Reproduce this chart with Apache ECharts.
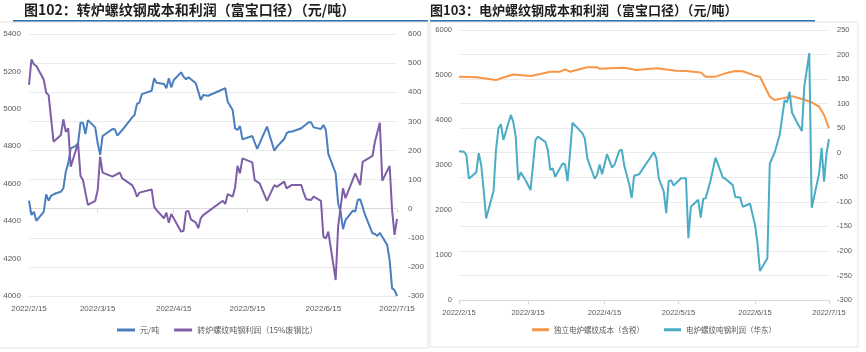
<!DOCTYPE html>
<html>
<head>
<meta charset="utf-8">
<script src="https://cdn.jsdelivr.net/npm/echarts@6/dist/echarts.min.js"></script>
<style>
  html, body { margin: 0; padding: 0; background: #fff; }
  #chart { width: 866px; height: 352px; }
</style>
</head>
<body>
<div id="chart"></div>
<script>
// ============================================================================
// Data
// ============================================================================

// x axis ticks (15th of each month)
const tickDates = ['2022-02-15', '2022-03-15', '2022-04-15', '2022-05-15', '2022-06-15', '2022-07-15'];

// left panel: BOF rebar cost (元/吨) and per-ton profit
const bofCostDates = ['2022-02-15', '2022-02-16', '2022-02-17', '2022-02-18', '2022-02-21', '2022-02-22', '2022-02-23', '2022-02-24', '2022-02-26', '2022-02-28',
  '2022-03-01', '2022-03-02', '2022-03-03', '2022-03-04', '2022-03-06', '2022-03-07', '2022-03-08', '2022-03-09', '2022-03-10', '2022-03-11',
  '2022-03-14', '2022-03-15', '2022-03-16', '2022-03-17', '2022-03-21', '2022-03-22', '2022-03-23', '2022-03-25', '2022-03-29', '2022-03-30',
  '2022-03-31', '2022-04-01', '2022-04-02', '2022-04-06', '2022-04-07', '2022-04-08', '2022-04-11', '2022-04-12', '2022-04-13', '2022-04-14',
  '2022-04-15', '2022-04-18', '2022-04-19', '2022-04-20', '2022-04-21', '2022-04-24', '2022-04-25', '2022-04-26', '2022-04-27', '2022-04-29',
  '2022-05-06', '2022-05-07', '2022-05-09', '2022-05-10', '2022-05-11', '2022-05-12', '2022-05-13', '2022-05-17', '2022-05-19', '2022-05-23',
  '2022-05-26', '2022-05-27', '2022-05-30', '2022-05-31', '2022-06-01', '2022-06-02', '2022-06-06', '2022-06-09', '2022-06-10', '2022-06-11',
  '2022-06-14', '2022-06-15', '2022-06-16', '2022-06-17', '2022-06-20', '2022-06-21', '2022-06-22', '2022-06-23', '2022-06-24', '2022-06-27',
  '2022-06-28', '2022-06-29', '2022-06-30', '2022-07-02', '2022-07-05', '2022-07-06', '2022-07-07', '2022-07-08', '2022-07-11', '2022-07-12',
  '2022-07-13', '2022-07-14', '2022-07-15'];
const bofCost = [4510, 4433, 4450, 4402, 4450, 4543, 4509, 4536, 4549, 4557,
  4575, 4664, 4709, 4789, 4801, 4816, 4926, 4926, 4866, 4940,
  4901, 4816, 4754, 4855, 4892, 4891, 4857, 4887, 4953, 4967,
  5026, 5033, 5079, 5097, 5163, 5140, 5133, 5110, 5163, 5115,
  5154, 5195, 5172, 5158, 5169, 5137, 5092, 5047, 5074, 5070,
  5110, 5038, 4994, 4896, 4887, 4908, 4837, 4855, 4786, 4905,
  4776, 4797, 4839, 4869, 4878, 4878, 4896, 4928, 4928, 4901,
  4892, 4914, 4887, 4759, 4656, 4496, 4451, 4357, 4406, 4456,
  4451, 4513, 4517, 4433, 4335, 4331, 4321, 4338, 4272, 4192,
  4041, 4032, 4000];

const bofProfitDates = ['2022-02-15', '2022-02-16', '2022-02-17', '2022-02-18', '2022-02-21', '2022-02-22', '2022-02-23', '2022-02-25', '2022-02-28', '2022-03-01',
  '2022-03-02', '2022-03-03', '2022-03-04', '2022-03-07', '2022-03-08', '2022-03-09', '2022-03-11', '2022-03-14', '2022-03-15', '2022-03-16',
  '2022-03-17', '2022-03-21', '2022-03-24', '2022-03-25', '2022-03-29', '2022-03-30', '2022-03-31', '2022-04-01', '2022-04-06', '2022-04-07',
  '2022-04-08', '2022-04-11', '2022-04-12', '2022-04-13', '2022-04-14', '2022-04-18', '2022-04-19', '2022-04-20', '2022-04-21', '2022-04-22',
  '2022-04-24', '2022-04-25', '2022-04-26', '2022-04-27', '2022-05-05', '2022-05-06', '2022-05-07', '2022-05-09', '2022-05-10', '2022-05-11',
  '2022-05-12', '2022-05-13', '2022-05-17', '2022-05-18', '2022-05-20', '2022-05-23', '2022-05-26', '2022-05-27', '2022-05-30', '2022-05-31',
  '2022-06-02', '2022-06-06', '2022-06-07', '2022-06-08', '2022-06-10', '2022-06-11', '2022-06-14', '2022-06-15', '2022-06-16', '2022-06-17',
  '2022-06-20', '2022-06-21', '2022-06-23', '2022-06-24', '2022-06-28', '2022-06-30', '2022-07-01', '2022-07-05', '2022-07-06', '2022-07-08',
  '2022-07-09', '2022-07-12', '2022-07-13', '2022-07-14', '2022-07-15'];
const bofProfit = [425, 513, 496, 490, 444, 398, 390, 230, 253, 307,
  264, 276, 144, 225, 112, 98, 13, 27, 64, 179,
  124, 110, 124, 104, 81, 66, 41, 55, 66, 7,
  -5, -33, -14, -48, -18, -79, -76, -10, -8, -37,
  -48, -67, -33, -22, 27, 16, 50, 41, 73, 147,
  121, 173, 159, 98, 87, 27, 81, 75, 93, 70,
  81, 81, 53, 32, 30, 41, 27, -96, -102, -79,
  -245, -62, 70, 36, 121, 81, 161, 181, 230, 295,
  96, 147, -5, -90, -35];

// right panel: EAF rebar cost (含税) and per-ton profit (华东)
const eafCostDates = ['2022-02-15', '2022-02-22', '2022-03-02', '2022-03-04', '2022-03-09', '2022-03-16', '2022-03-20', '2022-03-24', '2022-03-28', '2022-03-30',
  '2022-04-01', '2022-04-08', '2022-04-12', '2022-04-13', '2022-04-17', '2022-04-23', '2022-04-28', '2022-05-06', '2022-05-14', '2022-05-18',
  '2022-05-24', '2022-05-26', '2022-05-30', '2022-06-03', '2022-06-07', '2022-06-10', '2022-06-15', '2022-06-17', '2022-06-19', '2022-06-21',
  '2022-06-23', '2022-06-26', '2022-06-30', '2022-07-04', '2022-07-08', '2022-07-11', '2022-07-13', '2022-07-15'];
const eafCost = [4960, 4950, 4890, 4926, 5010, 4978, 5022, 5073, 5073, 5126,
  5073, 5171, 5171, 5140, 5149, 5162, 5111, 5149, 5096, 5089,
  5055, 4963, 4963, 5037, 5089, 5082, 4985, 4963, 4740, 4518,
  4444, 4481, 4530, 4467, 4393, 4296, 4111, 3815];

const eafProfitDates = ['2022-02-15', '2022-02-17', '2022-02-18', '2022-02-19', '2022-02-22', '2022-02-23', '2022-02-24', '2022-02-25', '2022-02-26', '2022-03-01',
  '2022-03-02', '2022-03-03', '2022-03-04', '2022-03-05', '2022-03-08', '2022-03-09', '2022-03-10', '2022-03-11', '2022-03-12', '2022-03-14',
  '2022-03-16', '2022-03-18', '2022-03-19', '2022-03-22', '2022-03-23', '2022-03-24', '2022-03-25', '2022-03-26', '2022-03-29', '2022-03-30',
  '2022-03-31', '2022-04-01', '2022-04-02', '2022-04-06', '2022-04-07', '2022-04-08', '2022-04-11', '2022-04-12', '2022-04-13', '2022-04-14',
  '2022-04-16', '2022-04-18', '2022-04-19', '2022-04-21', '2022-04-22', '2022-04-23', '2022-04-25', '2022-04-26', '2022-04-27', '2022-04-29',
  '2022-05-05', '2022-05-06', '2022-05-07', '2022-05-09', '2022-05-10', '2022-05-11', '2022-05-12', '2022-05-13', '2022-05-16', '2022-05-18',
  '2022-05-19', '2022-05-20', '2022-05-23', '2022-05-24', '2022-05-25', '2022-05-26', '2022-05-28', '2022-05-30', '2022-06-02', '2022-06-03',
  '2022-06-06', '2022-06-07', '2022-06-09', '2022-06-10', '2022-06-13', '2022-06-15', '2022-06-16', '2022-06-17', '2022-06-20', '2022-06-21',
  '2022-06-23', '2022-06-25', '2022-06-27', '2022-06-28', '2022-06-29', '2022-06-30', '2022-07-02', '2022-07-04', '2022-07-05', '2022-07-07',
  '2022-07-08', '2022-07-11', '2022-07-12', '2022-07-13', '2022-07-14', '2022-07-15'];
const eafProfit = [3, 2, -5, -53, -40, -1, -25, -76, -134, -78,
  6, 50, 58, 26, 77, 63, 33, -56, -40, -56,
  -76, 26, 33, 22, 6, -35, -32, -49, -22, -24,
  -58, -1, 61, 40, 29, -11, -53, -45, -24, -44,
  -3, -30, -25, 4, 6, -26, -64, -92, -47, -44,
  1, -11, -52, -79, -123, -58, -56, -67, -52, -52,
  -174, -110, -96, -132, -94, -93, -56, -10, -51, -53,
  -66, -90, -91, -110, -104, -147, -184, -241, -215, -22,
  1, 36, 107, 103, 124, 82, 62, 44, 135, 203,
  -112, -42, 10, -59, -1, 28];

// ============================================================================
// Chart
// ============================================================================

const FONT = '"Liberation Sans", "Noto Sans CJK SC", sans-serif';
const CJK = '"Noto Sans CJK SC", sans-serif';

// dates -> local timestamps, the x axes are plain value axes over time
const ts = (s) => new Date(s.replace(/-/g, '/')).getTime();
const zip = (dates, values) => dates.map((d, i) => [ts(d), values[i]]);
const tickValues = tickDates.map(ts);

const fmtDate = (v) => {
  const d = new Date(v);
  return d.getFullYear() + '/' + (d.getMonth() + 1) + '/' + d.getDate();
};

const makeXAxis = (gridIndex, fontSize) => ({
  type: 'value',
  gridIndex,
  min: tickValues[0],
  max: tickValues[tickValues.length - 1],
  axisLine: { lineStyle: { color: '#d9d9d9', width: 1 } },
  axisTick: { show: true, customValues: tickValues, length: 4, lineStyle: { color: '#d9d9d9' } },
  axisLabel: {
    customValues: tickValues,
    formatter: fmtDate,
    color: '#595959',
    fontSize,
    fontFamily: FONT,
    margin: 9,
  },
  splitLine: { show: false },
});

const makeYAxis = (gridIndex, position, min, max, interval, fontSize, split, margin) => ({
  type: 'value',
  gridIndex,
  position,
  min,
  max,
  interval,
  axisLine: { show: false },
  axisTick: { show: false },
  axisLabel: { color: '#595959', fontSize, fontFamily: FONT, margin, formatter: (v) => String(v) },
  splitLine: { show: split, lineStyle: { color: '#ebebeb', width: 1 } },
});

const lineSeries = (name, xi, yi, color, data) => ({
  name,
  type: 'line',
  xAxisIndex: xi,
  yAxisIndex: yi,
  data,
  showSymbol: false,
  symbol: 'none',
  lineStyle: { color, width: 2 },
  itemStyle: { color },
  emphasis: { disabled: true },
});

const chart = echarts.init(document.getElementById('chart'), null, { renderer: 'canvas' });

chart.setOption({
  animation: false,
  backgroundColor: '#fff',
  title: [
    {
      text: '图102：转炉螺纹钢成本和利润（富宝口径）（元/吨）',
      left: 24, top: 3, padding: 0,
      textStyle: { fontSize: 14, fontWeight: 'bold', color: '#1f1f1f', fontFamily: CJK },
    },
    {
      text: '图103：电炉螺纹钢成本和利润（富宝口径）（元/吨）',
      left: 430, top: 4, padding: 0,
      textStyle: { fontSize: 13, fontWeight: 'bold', color: '#1f1f1f', fontFamily: CJK },
    },
  ],
  // title underlines and panel frames
  graphic: [
    { type: 'line', shape: { x1: 13, y1: 21, x2: 428, y2: 21 }, style: { stroke: '#2e74b5', lineWidth: 2 } },
    { type: 'line', shape: { x1: 430, y1: 21, x2: 815, y2: 21 }, style: { stroke: '#2e74b5', lineWidth: 2 } },
    { type: 'rect', shape: { x: -1, y: 22, width: 429, height: 326 }, style: { fill: 'none', stroke: '#e3e3e3', lineWidth: 1 } },
    { type: 'rect', shape: { x: 430, y: 22, width: 428, height: 325 }, style: { fill: 'none', stroke: '#e3e3e3', lineWidth: 1 } },
  ],
  legend: [
    {
      left: 117, top: 326, padding: 0, itemGap: 15,
      itemWidth: 18, itemHeight: 3, icon: 'rect',
      textStyle: { fontSize: 8, color: '#595959', fontFamily: CJK },
      data: ['元/吨', '转炉螺纹吨钢利润（15%废钢比）'],
    },
    {
      left: 532, top: 326, padding: 0, itemGap: 20,
      itemWidth: 17, itemHeight: 3, icon: 'rect',
      textStyle: { fontSize: 7.5, color: '#595959', fontFamily: CJK },
      data: ['独立电炉螺纹成本（含税）', '电炉螺纹吨钢利润（华东）'],
    },
  ],
  grid: [
    { left: 29, top: 34, width: 368, height: 262 },
    { left: 459, top: 30, width: 370, height: 270 },
  ],
  xAxis: [makeXAxis(0, 8), makeXAxis(1, 7.5)],
  yAxis: [
    makeYAxis(0, 'left', 4000, 5400, 200, 8, false, 8),
    makeYAxis(0, 'right', -300, 600, 100, 8, true, 11),
    makeYAxis(1, 'left', 0, 6000, 1000, 7.5, false, 7),
    makeYAxis(1, 'right', -300, 250, 50, 7.5, true, 8),
  ],
  series: [
    lineSeries('元/吨', 0, 0, '#4a7ebf', zip(bofCostDates, bofCost)),
    lineSeries('转炉螺纹吨钢利润（15%废钢比）', 0, 1, '#7e5fa7', zip(bofProfitDates, bofProfit)),
    lineSeries('独立电炉螺纹成本（含税）', 1, 2, '#f79646', zip(eafCostDates, eafCost)),
    lineSeries('电炉螺纹吨钢利润（华东）', 1, 3, '#4bacc6', zip(eafProfitDates, eafProfit)),
  ],
});

window.addEventListener('resize', () => chart.resize());
</script>
</body>
</html>
